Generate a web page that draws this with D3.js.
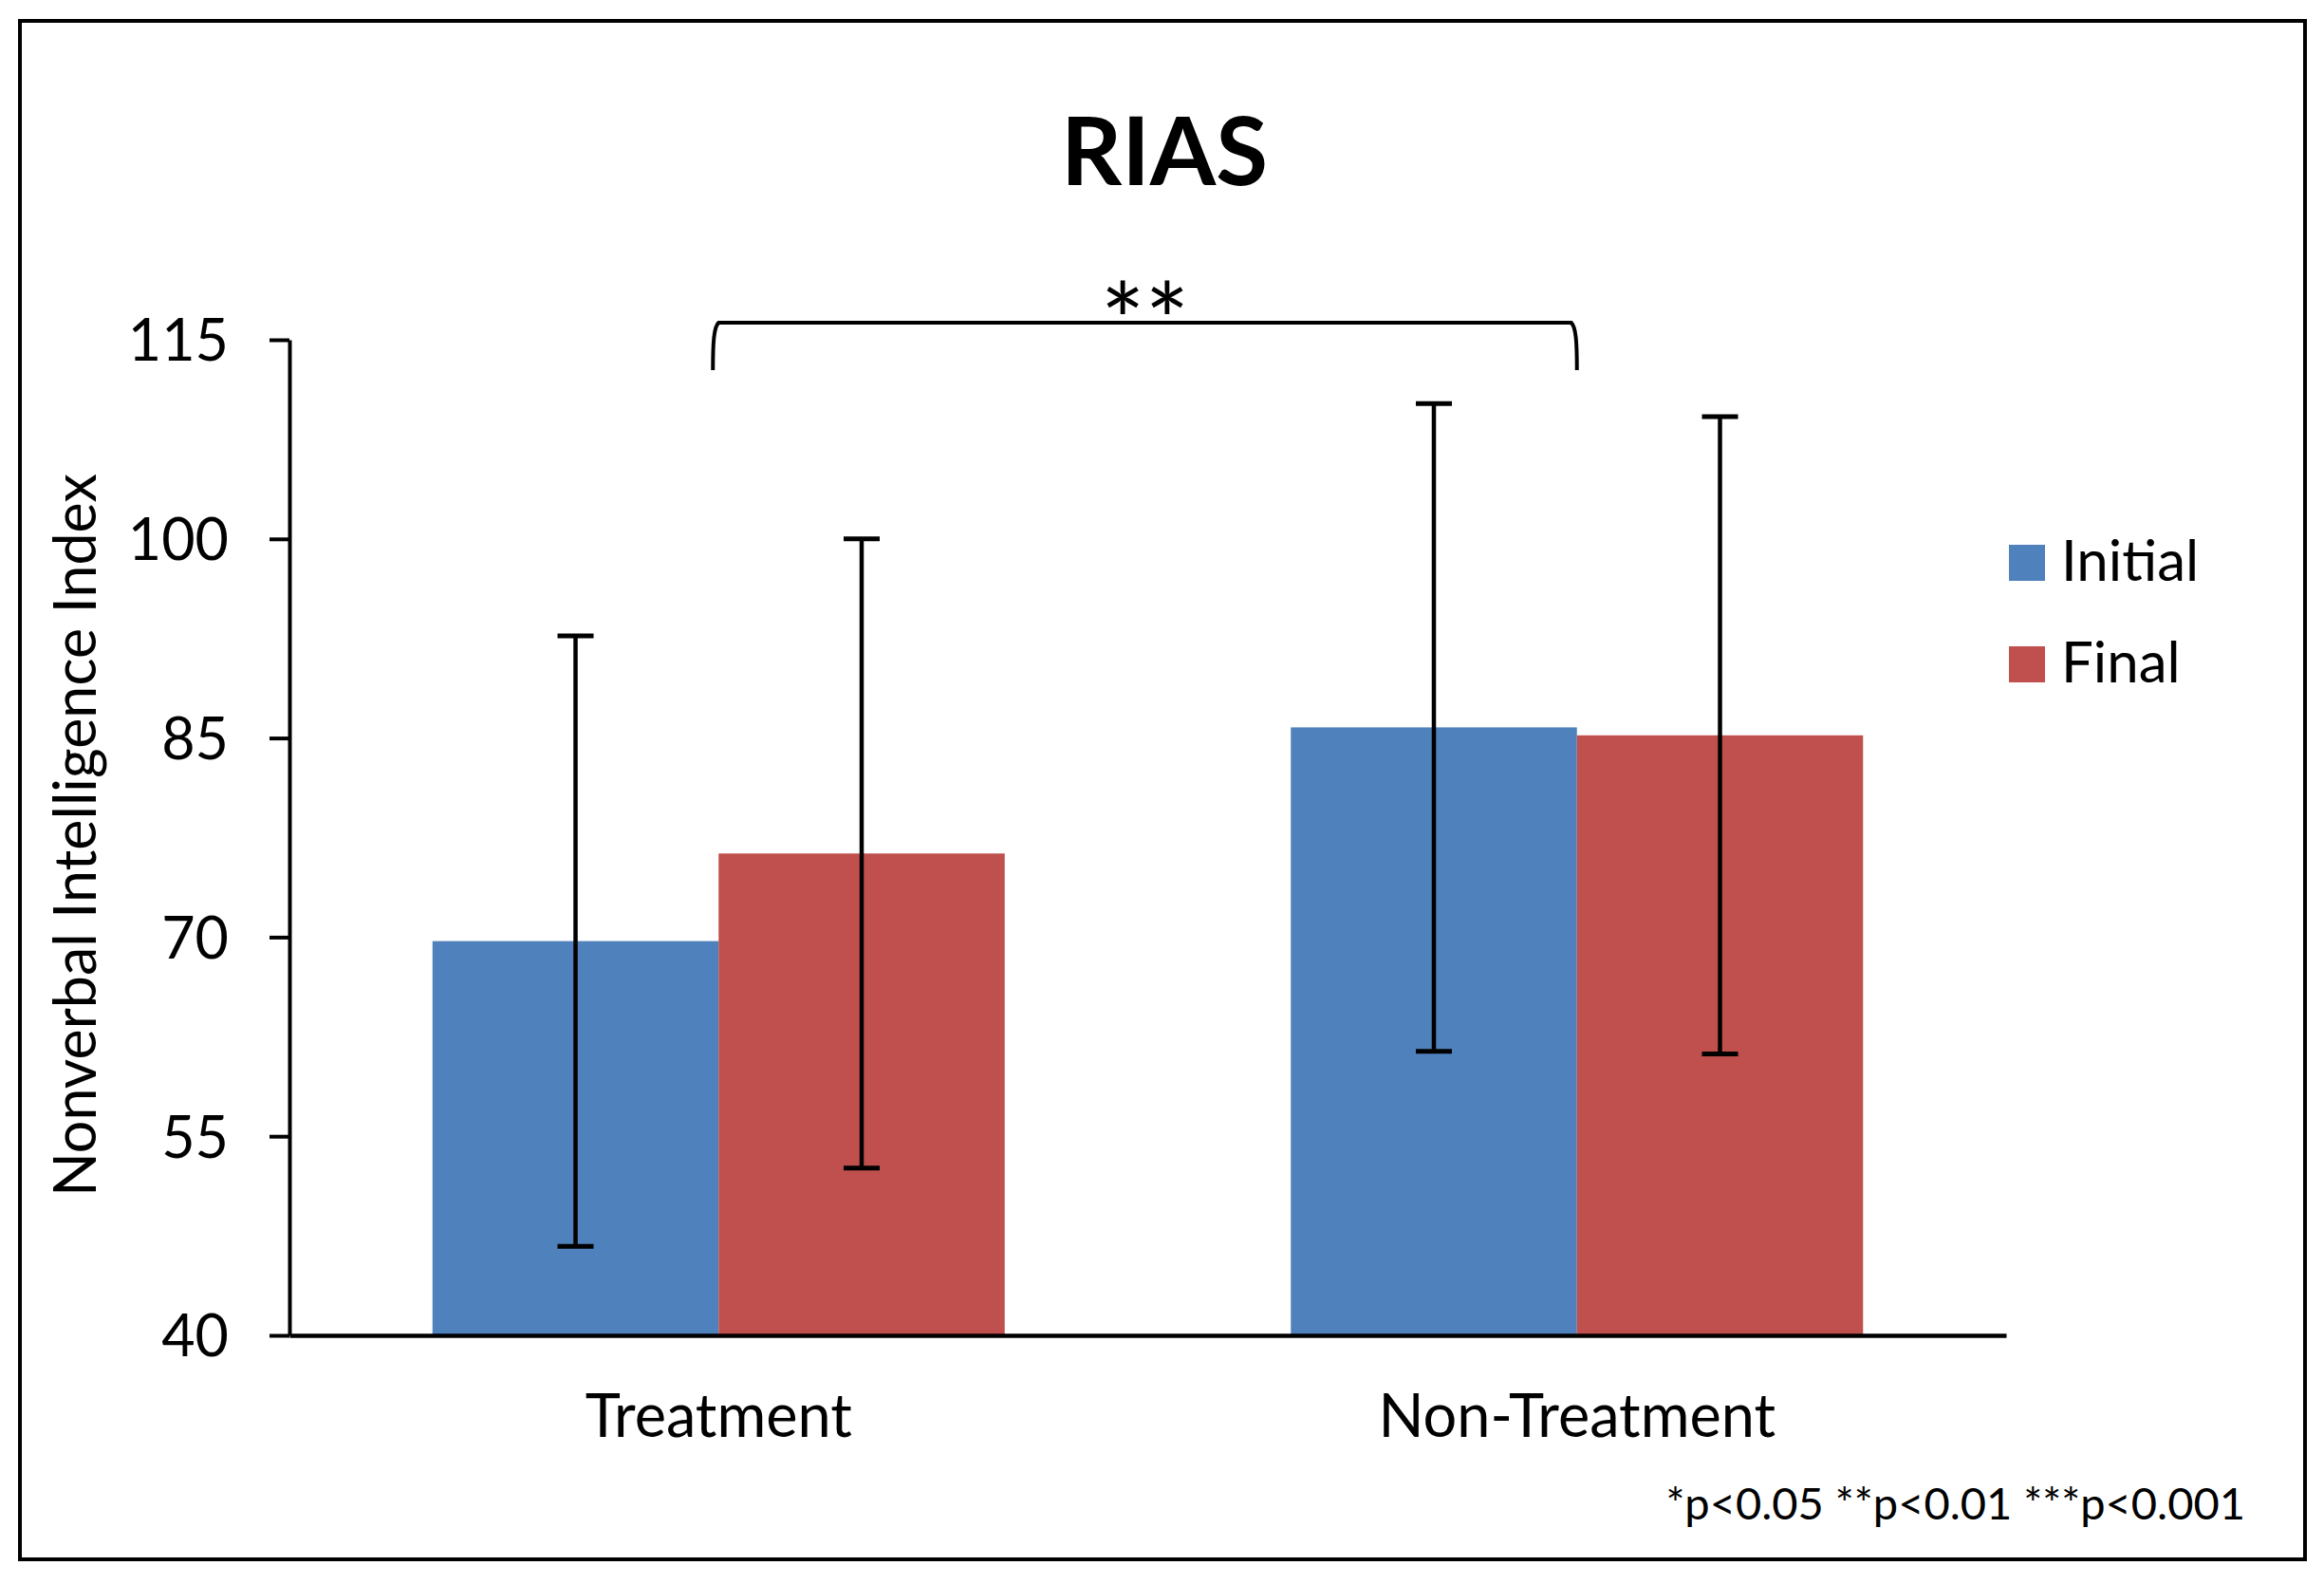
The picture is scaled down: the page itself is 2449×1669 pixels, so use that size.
<!DOCTYPE html>
<html>
<head>
<meta charset="utf-8">
<script src="https://cdn.jsdelivr.net/npm/d3@7"></script>
<style>
  body { margin: 0; background: #fff; }
  svg text { font-family: Lato, "Noto Sans", sans-serif; fill: #000; }
</style>
</head>
<body>
<svg id="chart"></svg>
<script>
var width = 2449;
var height = 1669;

// data
var categories = ["Treatment", "Non-Treatment"];
var series = ["Initial", "Final"];
var initialMeans = [69.7, 85.8];
var finalMeans = [76.3, 85.2];
var initialSD = [23.0, 24.4];
var finalSD = [23.7, 24.0];
var yTicks = [40, 55, 70, 85, 100, 115];
var colors = ["#4F81BD", "#C0504D"];

var margin = {top: 358, right: 335, bottom: 262, left: 305};

var svg = d3.select('#chart')
    .attr('width', width)
    .attr('height', height);

svg.append("rect")
    .attr("x", 21).attr("y", 22)
    .attr("width", 2408).attr("height", 1621)
    .attr("fill", "white")
    .attr("stroke", "black")
    .attr("stroke-width", 4);

var x0 = d3.scaleBand()
    .domain(categories)
    .range([margin.left, width - margin.right]);

var x1 = d3.scaleBand()
    .domain(series)
    .range([0, x0.bandwidth()])
    .paddingOuter(0.5);

var y = d3.scaleLinear()
    .domain([40, 115])
    .range([height - margin.bottom, margin.top]);

var rows = categories.map(function(c, i) {
    return [
        {cat: c, key: "Initial", value: initialMeans[i], sd: initialSD[i]},
        {cat: c, key: "Final", value: finalMeans[i], sd: finalSD[i]}
    ];
});
var color = d3.scaleOrdinal().domain(series).range(colors);

// bars
var groups = svg.append("g").selectAll("g")
    .data(rows)
    .enter().append("g")
    .attr("transform", function(d, i) { return "translate(" + x0(categories[i]) + ",0)"; });

groups.selectAll("rect")
    .data(function(d) { return d; })
    .enter().append("rect")
    .attr("x", function(d) { return x1(d.key); })
    .attr("y", function(d) { return y(d.value); })
    .attr("width", x1.bandwidth())
    .attr("height", function(d) { return y(40) - y(d.value); })
    .attr("fill", function(d) { return color(d.key); });

// error bars
var err = groups.selectAll("g.err")
    .data(function(d) { return d; })
    .enter().append("g")
    .attr("class", "err")
    .attr("stroke", "black")
    .attr("stroke-width", 4.5);

err.append("line")
    .attr("x1", function(d) { return x1(d.key) + x1.bandwidth() / 2; })
    .attr("x2", function(d) { return x1(d.key) + x1.bandwidth() / 2; })
    .attr("y1", function(d) { return y(d.value + d.sd); })
    .attr("y2", function(d) { return y(d.value - d.sd); });

[1, -1].forEach(function(s) {
    err.append("line")
        .attr("x1", function(d) { return x1(d.key) + x1.bandwidth() / 2 - 19; })
        .attr("x2", function(d) { return x1(d.key) + x1.bandwidth() / 2 + 19; })
        .attr("y1", function(d) { return y(d.value + s * d.sd); })
        .attr("y2", function(d) { return y(d.value + s * d.sd); })
        .attr("stroke-width", 5);
});

// y axis
var yAxis = svg.append("g")
    .attr("transform", "translate(" + margin.left + ",0)")
    .call(d3.axisLeft(y).tickValues(yTicks).tickSize(21).tickSizeOuter(0).tickPadding(43));
yAxis.selectAll("line, path").attr("stroke", "black").attr("stroke-width", 4);
yAxis.selectAll("text").style("font-size", "61px").attr("dy", "0.36em");

// x axis
var xAxis = svg.append("g")
    .attr("transform", "translate(0," + y(40) + ")")
    .call(d3.axisBottom(x0).tickSize(0).tickPadding(62));
xAxis.select("path").attr("stroke", "black").attr("stroke-width", 4.5);
xAxis.selectAll("text").style("font-size", "63px");

// title
svg.append("text")
    .attr("x", 1227).attr("y", 195)
    .attr("text-anchor", "middle")
    .style("font-size", "100px").style("font-weight", "bold")
    .text("RIAS");

// y label
svg.append("text")
    .attr("transform", "translate(101,880) rotate(-90)")
    .attr("text-anchor", "middle")
    .style("font-size", "61px")
    .text("Nonverbal Intelligence Index");

// significance bracket between the two groups
var bx1 = x0(categories[0]) + x0.bandwidth() / 2 - 6;
var bx2 = x0(categories[1]) + x0.bandwidth() / 2;
svg.append("path")
    .attr("d", "M" + bx1 + ",390 C" + bx1 + ",360 " + (bx1 + 1) + ",345 " + (bx1 + 6) + ",340 L" +
        (bx2 - 6) + ",340 C" + (bx2 - 1) + ",345 " + bx2 + ",360 " + bx2 + ",390")
    .attr("fill", "none")
    .attr("stroke", "black")
    .attr("stroke-width", 4);

svg.append("text")
    .attr("x", (bx1 + bx2) / 2).attr("y", 379)
    .attr("text-anchor", "middle")
    .style("font-size", "110px")
    .text("**");

// legend
var legend = svg.append("g").selectAll("g")
    .data(series)
    .enter().append("g")
    .attr("transform", function(d, i) { return "translate(2117," + (574 + i * 107) + ")"; });
legend.append("rect")
    .attr("width", 38).attr("height", 38)
    .attr("fill", function(d) { return color(d); });
legend.append("text")
    .attr("x", 55).attr("y", 38)
    .style("font-size", "60px")
    .text(function(d) { return d; });

// footnote
svg.append("text")
    .attr("x", 2366).attr("y", 1601)
    .attr("text-anchor", "end")
    .style("font-size", "47px")
    .text("*p<0.05 **p<0.01 ***p<0.001");
</script>
</body>
</html>
